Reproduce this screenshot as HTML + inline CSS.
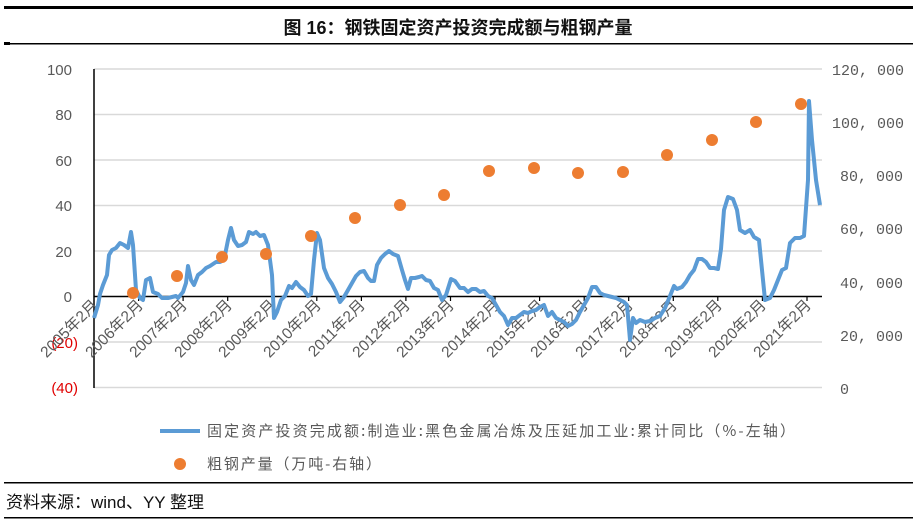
<!DOCTYPE html>
<html><head><meta charset="utf-8"><style>
body{margin:0;background:#fff;width:917px;height:527px;overflow:hidden}
svg{display:block}
</style></head><body>
<svg width="917" height="527" viewBox="0 0 917 527" xmlns="http://www.w3.org/2000/svg" font-family="Liberation Sans, Noto Sans CJK SC, sans-serif">
<rect x="4" y="6" width="909" height="3" fill="#000"/>
<text x="458" y="34" text-anchor="middle" font-size="18" font-weight="bold" fill="#111">图 16：钢铁固定资产投资完成额与粗钢产量</text>
<rect x="4" y="43" width="909" height="1.5" fill="#000"/>
<rect x="4" y="42" width="6" height="3" fill="#000"/>
<g stroke="#d9d9d9" stroke-width="1.5">
<line x1="94" y1="69" x2="822" y2="69"/><line x1="94" y1="114.5" x2="822" y2="114.5"/><line x1="94" y1="160" x2="822" y2="160"/><line x1="94" y1="205.5" x2="822" y2="205.5"/><line x1="94" y1="251" x2="822" y2="251"/><line x1="94" y1="342" x2="822" y2="342"/><line x1="94" y1="387.5" x2="822" y2="387.5"/>
</g>
<line x1="94" y1="69" x2="94" y2="388" stroke="#000" stroke-width="1.5"/>
<line x1="94" y1="296.5" x2="822" y2="296.5" stroke="#000" stroke-width="1.5"/>
<g stroke="#000" stroke-width="1.2">
<line x1="138.6" y1="296" x2="138.6" y2="301"/><line x1="183.1" y1="296" x2="183.1" y2="301"/><line x1="227.7" y1="296" x2="227.7" y2="301"/><line x1="272.2" y1="296" x2="272.2" y2="301"/><line x1="316.8" y1="296" x2="316.8" y2="301"/><line x1="361.4" y1="296" x2="361.4" y2="301"/><line x1="405.9" y1="296" x2="405.9" y2="301"/><line x1="450.5" y1="296" x2="450.5" y2="301"/><line x1="495" y1="296" x2="495" y2="301"/><line x1="539.6" y1="296" x2="539.6" y2="301"/><line x1="584.2" y1="296" x2="584.2" y2="301"/><line x1="628.7" y1="296" x2="628.7" y2="301"/><line x1="673.3" y1="296" x2="673.3" y2="301"/><line x1="717.8" y1="296" x2="717.8" y2="301"/><line x1="762.4" y1="296" x2="762.4" y2="301"/><line x1="807" y1="296" x2="807" y2="301"/>
</g>
<g font-size="15" fill="#595959" text-anchor="end">
<text x="72" y="75">100</text><text x="72" y="120">80</text><text x="72" y="166">60</text><text x="72" y="211">40</text><text x="72" y="257">20</text><text x="72" y="302">0</text>
<text x="78" y="348" fill="#e00000">(20)</text><text x="78" y="393" fill="#e00000">(40)</text>
</g>
<g font-size="15" fill="#595959" font-family="Liberation Mono, Noto Sans CJK SC, monospace">
<text x="832" y="75">120, 000</text><text x="832" y="128">100, 000</text><text x="840" y="181">80, 000</text><text x="840" y="234">60, 000</text><text x="840" y="288">40, 000</text><text x="840" y="341">20, 000</text><text x="840" y="394">0</text>
</g>
<g font-size="15.5" fill="#595959" text-anchor="end">
<text transform="translate(99,306) rotate(-45)">2005年2月</text>
<text transform="translate(144,306) rotate(-45)">2006年2月</text>
<text transform="translate(188,306) rotate(-45)">2007年2月</text>
<text transform="translate(233,306) rotate(-45)">2008年2月</text>
<text transform="translate(277,306) rotate(-45)">2009年2月</text>
<text transform="translate(322,306) rotate(-45)">2010年2月</text>
<text transform="translate(366,306) rotate(-45)">2011年2月</text>
<text transform="translate(411,306) rotate(-45)">2012年2月</text>
<text transform="translate(455,306) rotate(-45)">2013年2月</text>
<text transform="translate(500,306) rotate(-45)">2014年2月</text>
<text transform="translate(545,306) rotate(-45)">2015年2月</text>
<text transform="translate(589,306) rotate(-45)">2016年2月</text>
<text transform="translate(634,306) rotate(-45)">2017年2月</text>
<text transform="translate(678,306) rotate(-45)">2018年2月</text>
<text transform="translate(723,306) rotate(-45)">2019年2月</text>
<text transform="translate(767,306) rotate(-45)">2020年2月</text>
<text transform="translate(812,306) rotate(-45)">2021年2月</text>
</g>
<polyline fill="none" stroke="#5b9bd5" stroke-width="4" stroke-linejoin="round" points="94,318 98,305 100,294 103,285 107,275 109,255 112,250 116,248 120,243 124,245 128,248 131,232 133,245 136,290 140,298 143,300 146,280 150,278 153,292 158,294 162,298 168,298 172,297 176,296 178,298 183,292 186,283 188,266 191,280 194,285 198,275 202,272 206,268 210,266 216,262 220,262 224,260 228,240 231,228 234,240 238,246 242,245 246,242 249,232 253,234 256,232 260,236 264,235 268,245 272,275 274,318 277,312 281,300 285,296 289,286 292,288 296,282 300,287 304,290 308,296 311,294 314,260 317,233 320,240 324,268 328,278 332,284 336,292 340,302 344,297 348,290 352,283 356,276 360,272 364,271 368,278 371,281 374,281 377,265 381,258 385,254 389,251 393,254 398,256 402,270 405,280 408,289 411,278 415,278 419,277 422,276 426,280 430,281 434,288 438,290 442,300 446,295 451,279 455,281 460,288 464,288 468,292 472,289 476,289 480,292 484,291 488,296 492,298 496,305 500,312 504,316 508,325 512,318 516,318 520,315 524,312 528,313 532,311 536,310 540,307 544,305 548,316 552,312 556,318 560,320 564,322 568,326 572,324 576,320 580,312 584,305 588,298 592,287 596,287 600,293 604,295 608,296 612,297 616,298 620,300 624,302 627,305 630,340 633,318 636,323 640,320 645,322 650,321 655,318 660,316 665,308 670,296 674,286 677,289 682,287 686,282 690,275 694,270 698,259 702,259 706,262 710,268 714,268 718,269 721,249 724,210 728,197 733,199 737,210 740,230 745,233 750,230 754,237 759,240 762,270 765,300 770,298 774,290 778,280 782,270 786,268 790,243 795,238 800,238 804,236 808,180 809,101 812,140 816,180 820,205"/>
<g fill="#ed7d31">
<circle cx="133" cy="293" r="6"/><circle cx="177" cy="276" r="6"/><circle cx="222" cy="257" r="6"/><circle cx="266" cy="254" r="6"/><circle cx="311" cy="236" r="6"/><circle cx="355" cy="218" r="6"/><circle cx="400" cy="205" r="6"/><circle cx="444" cy="195" r="6"/><circle cx="489" cy="171" r="6"/><circle cx="534" cy="168" r="6"/><circle cx="578" cy="173" r="6"/><circle cx="623" cy="172" r="6"/><circle cx="667" cy="155" r="6"/><circle cx="712" cy="140" r="6"/><circle cx="756" cy="122" r="6"/><circle cx="801" cy="104" r="6"/>
</g>
<line x1="160" y1="431" x2="200" y2="431" stroke="#5b9bd5" stroke-width="4"/>
<text x="207" y="436" font-size="15" fill="#595959" textLength="588" lengthAdjust="spacing" font-family="Noto Sans CJK SC, monospace">固定资产投资完成额:制造业:黑色金属冶炼及压延加工业:累计同比（%-左轴）</text>
<circle cx="180" cy="464" r="6" fill="#ed7d31"/>
<text x="207" y="469" font-size="15" fill="#595959" textLength="174" lengthAdjust="spacing" font-family="Noto Sans CJK SC, monospace">粗钢产量（万吨-右轴）</text>
<rect x="4" y="482" width="909" height="1.5" fill="#000"/>
<text x="6" y="508" font-size="17" fill="#111">资料来源：wind、YY 整理</text>
<rect x="4" y="517" width="909" height="1.5" fill="#000"/>
</svg>
</body></html>
